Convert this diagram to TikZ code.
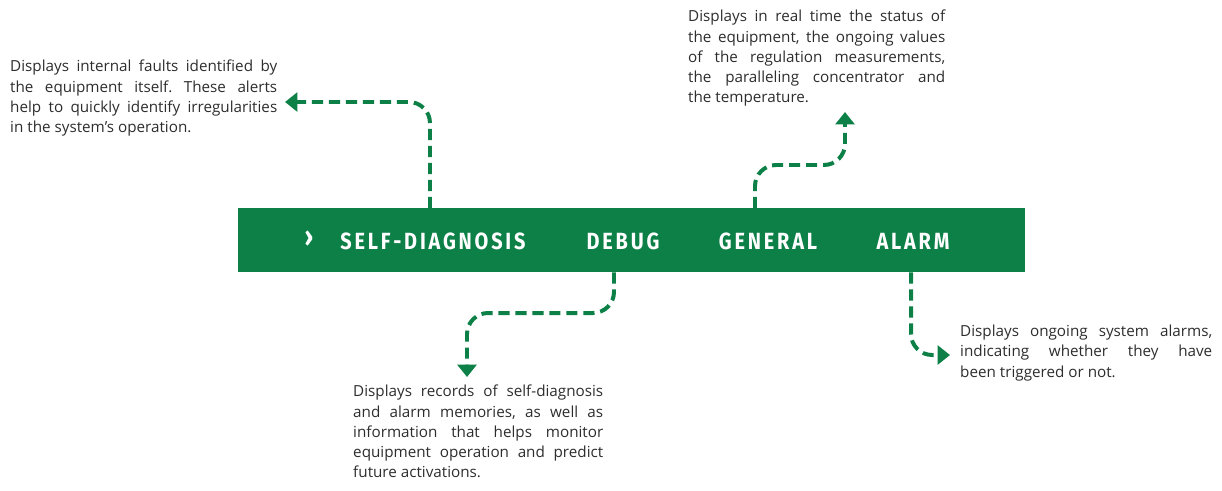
\documentclass[tikz,border=0pt]{standalone}
\usepackage{fontspec}
\setmainfont{Open Sans}
\newfontfamily\tabfont[FakeStretch=0.85,LetterSpace=12]{Fira Sans}
\usepackage{xcolor}
\usepackage{tikz}
\usetikzlibrary{arrows.meta,positioning,calc}
\definecolor{menugreen}{RGB}{12,128,70}
\definecolor{bodygray}{RGB}{45,45,45}
\frenchspacing
\begin{document}
\begin{tikzpicture}[
  x=0.03cm, y=-0.03cm,
  desc/.style={anchor=north west, inner sep=0pt, align=justify, text=bodygray, font=\fontsize{13}{17.2}\selectfont},
  tab/.style={text=white, font=\tabfont\bfseries\fontsize{20}{20}\selectfont, inner sep=0pt},
  link/.style={menugreen, line width=3.4pt, dash pattern=on 9.5pt off 5pt, rounded corners=18pt, -{Triangle[width=16pt,length=10.5pt]}},
]
\useasboundingbox (0,0) rectangle (1222,490);
\node[fill=menugreen, anchor=north west, inner sep=0pt, minimum width=23.61cm, minimum height=1.92cm] (bar) at (238,208) {};
\node[tab, font=\tabfont\bfseries\fontsize{24}{24}\selectfont] (chevron) at (309,239) {›};
\node[tab] (selfdiag) at (433,241) {SELF-DIAGNOSIS};
\node[tab] (debug) at (623,241) {DEBUG};
\node[tab] (general) at (768,241) {GENERAL};
\node[tab] (alarm) at (913,241) {ALARM};
\node[desc, text width=8.01cm] (faults) at (10,60) {Displays internal faults identified by\linebreak the equipment itself. These alerts\linebreak help to quickly identify irregularities\linebreak in the system's operation.};
\node[desc, text width=7.71cm] (status) at (688,10) {Displays in real time the status of\linebreak the equipment, the ongoing values\linebreak of the regulation measurements,\linebreak the paralleling concentrator and\linebreak the temperature.};
\node[desc, text width=7.5cm] (records) at (353,385) {Displays records of self-diagnosis\linebreak and alarm memories, as well as\linebreak information that helps monitor\linebreak equipment operation and predict\linebreak future activations.};
\node[desc, text width=7.56cm] (alarms) at (960,325) {Displays ongoing system alarms,\linebreak indicating whether they have\linebreak been triggered or not.};
\coordinate (faultsend) at (285,102);
\coordinate (statusend) at (845,112);
\coordinate (recordsend) at (467,377);
\coordinate (alarmsend) at (950,355);
\draw[link] ($(selfdiag |- bar.north)+(-3,0)$) |- (faultsend);
\draw[link] ($(general |- bar.north)+(-13,0)$) |- ($(statusend)+(0,53)$) -- (statusend);
\draw[link] ($(debug |- bar.south)+(-9,0)$) |- ($(recordsend)+(0,-64)$) -- (recordsend);
\draw[link] ($(alarm |- bar.south)+(-2,0)$) |- (alarmsend);
\end{tikzpicture}
\end{document}
